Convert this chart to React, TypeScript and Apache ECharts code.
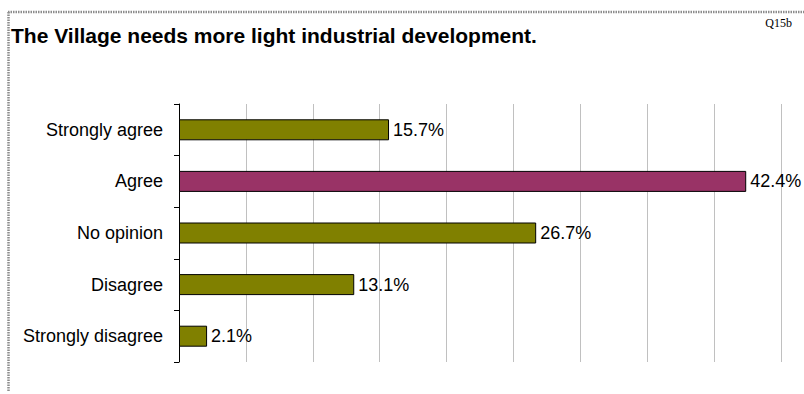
import React, { useEffect, useRef } from "react";
import * as echarts from "echarts";

const categories = ["Strongly agree", "Agree", "No opinion", "Disagree", "Strongly disagree"];
const values = [15.7, 42.4, 26.7, 13.1, 2.1];
const barColors = ["#808000", "#993366", "#808000", "#808000", "#808000"];
const titleText = "The Village needs more light industrial development.";
const questionCode = "Q15b";

export default function App() {
  const ref = useRef<HTMLDivElement>(null);
  useEffect(() => {
    if (!ref.current) return;
    const chart = echarts.init(ref.current, null, { renderer: "svg" });
    chart.setOption({
      animation: false,
      backgroundColor: "#ffffff",
      graphic: [
        {
          type: "line",
          shape: { x1: 8, y1: 12, x2: 804, y2: 12 },
          style: { stroke: "#8c8c8c", lineWidth: 2.5, lineDash: [1.5, 1] },
        },
        {
          type: "line",
          shape: { x1: 8.5, y1: 12, x2: 8.5, y2: 391 },
          style: { stroke: "#8c8c8c", lineWidth: 2.5, lineDash: [1.5, 1] },
        },
        {
          type: "text",
          x: 11,
          y: 35,
          style: {
            text: titleText,
            font: "bold 21px 'Liberation Sans', Arial, sans-serif",
            fill: "#000",
            textVerticalAlign: "middle",
          },
        },
        {
          type: "text",
          x: 792,
          y: 23,
          style: {
            text: questionCode,
            font: "12px 'Liberation Serif', 'Times New Roman', serif",
            fill: "#000",
            textAlign: "right",
            textVerticalAlign: "middle",
          },
        },
      ],
      grid: { left: 179, right: 23, top: 104, bottom: 32, containLabel: false },
      xAxis: {
        type: "value",
        min: 0,
        max: 45,
        interval: 5,
        axisLine: { show: false },
        axisTick: { show: false },
        axisLabel: { show: false },
        splitLine: { show: true, lineStyle: { color: "#c0c0c0", width: 1 } },
      },
      yAxis: {
        type: "category",
        data: categories,
        inverse: true,
        axisLine: { show: true, lineStyle: { color: "#000", width: 1 } },
        axisTick: { show: true, length: 5, lineStyle: { color: "#000" } },
        axisLabel: {
          margin: 16,
          color: "#000",
          fontSize: 18,
          fontFamily: "'Liberation Sans', Arial, sans-serif",
        },
      },
      series: [
        {
          type: "bar",
          barWidth: 21,
          data: values.map((v, i) => ({
            value: v,
            itemStyle: { color: barColors[i], borderColor: "#000", borderWidth: 1 },
          })),
          label: {
            show: true,
            position: "right",
            distance: 4,
            color: "#000",
            fontSize: 18,
            fontFamily: "'Liberation Sans', Arial, sans-serif",
            formatter: (p: any) => `${p.value}%`,
          },
        },
      ],
    });
    return () => chart.dispose();
  }, []);
  return (
    <div
      ref={ref}
      style={{ position: "fixed", left: 0, top: 0, width: 804, height: 394 }}
    />
  );
}
